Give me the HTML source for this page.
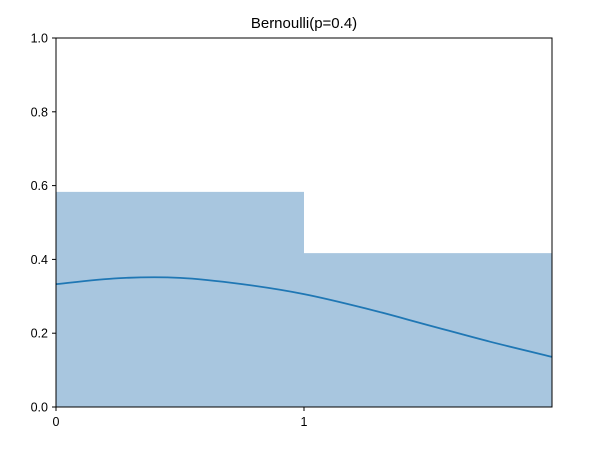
<!DOCTYPE html>
<html><head><meta charset="utf-8"><style>
body{margin:0;background:#fff;}
svg text{font-family:"Liberation Sans","DejaVu Sans",sans-serif;fill:#000;}
</style></head><body>
<svg id="chart" width="591" height="444" xmlns="http://www.w3.org/2000/svg">
<text x="304" y="28" font-size="15" text-anchor="middle">Bernoulli(p=0.4)</text>
<g id="plot"></g>
</svg>
<script>
const barCategories=[0,1];
const barValues=[0.583,0.417];
const curveX=[0,0.25,0.5,0.75,1,1.25,1.5,1.75,2];
const curveY=[0.333,0.349,0.350,0.333,0.306,0.267,0.222,0.177,0.136];
const yTicks=[0,0.2,0.4,0.6,0.8,1.0];
const yTickLabels=["0.0","0.2","0.4","0.6","0.8","1.0"];
const xTicks=[0,1];
const xTickLabels=["0","1"];

const L=56,R=552,T=38,B=407;
const sx=v=>L+(v-0)/(2-0)*(R-L);
const sy=v=>B-(v-0)/(1-0)*(B-T);
const NS="http://www.w3.org/2000/svg";
const g=document.getElementById('plot');
function mk(tag,attrs){const e=document.createElementNS(NS,tag);for(const k in attrs)e.setAttribute(k,attrs[k]);g.appendChild(e);return e;}

barCategories.forEach((c,i)=>{
  const r=mk('rect',{x:sx(c),y:sy(barValues[i]),width:sx(c+1)-sx(c),height:sy(0)-sy(barValues[i]),fill:'#a8c6df'});
  
  
});
const pts=curveX.map((x,i)=>[sx(x),sy(curveY[i])]);
let d='M'+pts[0][0]+','+pts[0][1];
for(let i=0;i<pts.length-1;i++){
  const p0=pts[Math.max(0,i-1)],p1=pts[i],p2=pts[i+1],p3=pts[Math.min(pts.length-1,i+2)];
  const c1=[p1[0]+(p2[0]-p0[0])/6,p1[1]+(p2[1]-p0[1])/6];
  const c2=[p2[0]-(p3[0]-p1[0])/6,p2[1]-(p3[1]-p1[1])/6];
  d+=` C${c1[0]},${c1[1]} ${c2[0]},${c2[1]} ${p2[0]},${p2[1]}`;
}
const line=mk('path',{d:d,fill:'none',stroke:'#1f77b4','stroke-width':1.8});



const frame=mk('rect',{x:L,y:T,width:R-L,height:B-T,fill:'none',stroke:'#000','stroke-width':1});



yTicks.forEach((v,i)=>{
  const t=mk('line',{x1:L-4,x2:L,y1:sy(v),y2:sy(v),stroke:'#000'});
  
  
  const tx=mk('text',{x:L-8,y:sy(v)+4.5,'font-size':12.5,'text-anchor':'end'});
  tx.textContent=yTickLabels[i];
  
  
});
xTicks.forEach((v,i)=>{
  const t=mk('line',{x1:sx(v),x2:sx(v),y1:B,y2:B+4,stroke:'#000'});
  
  
  const tx=mk('text',{x:sx(v),y:B+19,'font-size':12.5,'text-anchor':'middle'});
  tx.textContent=xTickLabels[i];
  
  
});
</script>
</body></html>
